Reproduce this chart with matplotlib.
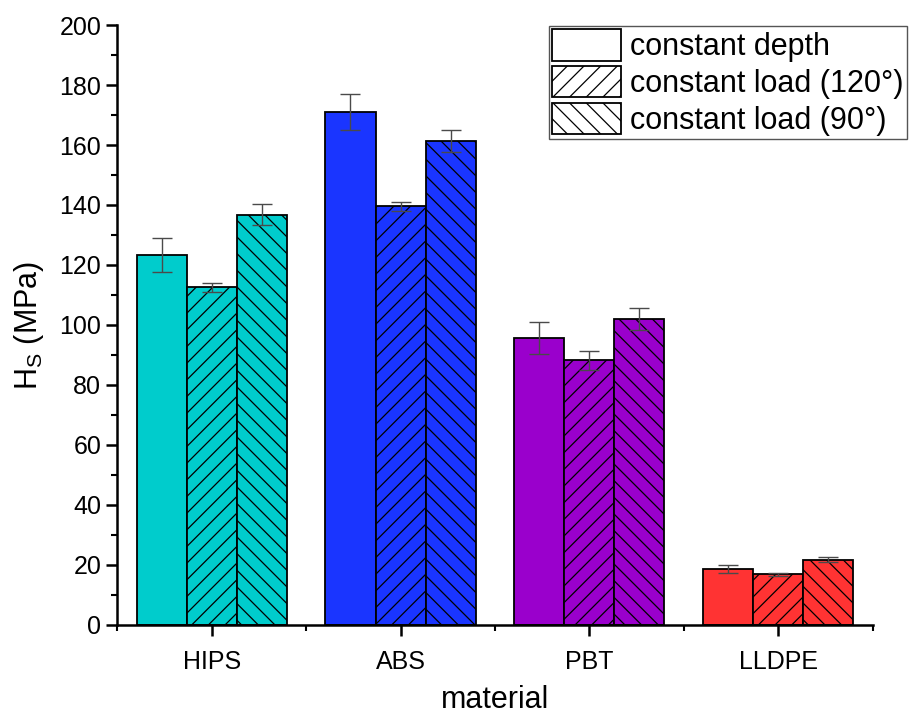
import numpy as np
import matplotlib
matplotlib.use("Agg")
import matplotlib.pyplot as plt
from matplotlib.patches import Patch
from matplotlib.ticker import MultipleLocator, FixedLocator

plt.rcParams['font.family'] = ['Liberation Sans', 'DejaVu Sans']
plt.rcParams['hatch.linewidth'] = 0.9

# hardness data per material
materials = ['HIPS', 'ABS', 'PBT', 'LLDPE']
colors = ['#00CCCC', '#1A35FF', '#9A00CC', '#FF3333']

depth = [123.3, 171.0, 95.7, 18.7]
depth_err = [5.7, 6.0, 5.3, 1.3]
load120 = [112.5, 139.6, 88.2, 16.9]
load120_err = [1.6, 1.5, 3.2, 0.5]
load90 = [136.8, 161.3, 102.0, 21.8]
load90_err = [3.6, 3.7, 3.7, 0.8]

series = [
    ('constant depth', depth, depth_err, ''),
    ('constant load (120°)', load120, load120_err, '//'),
    ('constant load (90°)', load90, load90_err, '\\\\'),
]

fig = plt.figure(figsize=(9.09, 7.15), dpi=100)
ax = fig.add_axes([0.129, 0.126, 0.831, 0.839])

x = np.arange(1, len(materials) + 1)
w = 0.265
for i, (name, vals, errs, hatch) in enumerate(series):
    pos = x + (i - 1) * w
    ax.bar(pos, vals, width=w, color=colors, edgecolor='black',
           linewidth=1.3, hatch=hatch, zorder=2)
    ax.errorbar(pos, vals, yerr=errs, fmt='none', ecolor='#4a4a4a',
                elinewidth=1.0, capsize=7, capthick=1.0, zorder=3)

ax.set_xlim(0.5, 4.5)
ax.set_ylim(0, 200)
ax.set_xticks(x)
ax.set_xticklabels(materials)
ax.xaxis.set_minor_locator(FixedLocator(np.arange(0.5, 4.6, 1.0)))
ax.yaxis.set_major_locator(MultipleLocator(20))
ax.yaxis.set_minor_locator(MultipleLocator(10))

for s in ['top', 'right']:
    ax.spines[s].set_visible(False)
for s in ['left', 'bottom']:
    ax.spines[s].set_linewidth(1.8)

ax.tick_params(which='major', direction='out', length=8, width=1.8,
               labelsize=18)
ax.tick_params(which='minor', direction='out', length=4.5, width=1.5)
ax.tick_params(axis='x', pad=10)

ax.set_xlabel('material', fontsize=22, labelpad=8)
ax.set_ylabel('H$_\\mathregular{S}$ (MPa)', fontsize=22, labelpad=10)

handles = [Patch(facecolor='white', edgecolor='black', linewidth=1.3,
                 hatch=h, label=n) for n, _, _, h in series]
leg = ax.legend(handles=handles, loc='upper right',
                bbox_to_anchor=(1.045, 0.998), fontsize=22,
                handlelength=2.25, handleheight=1.2, handletextpad=0.3,
                labelspacing=0.12, borderpad=0.1, borderaxespad=0.0,
                fancybox=False, framealpha=1)
leg.get_frame().set_edgecolor('#555555')
leg.get_frame().set_linewidth(1.0)

fig.savefig('out.png', dpi=100)
